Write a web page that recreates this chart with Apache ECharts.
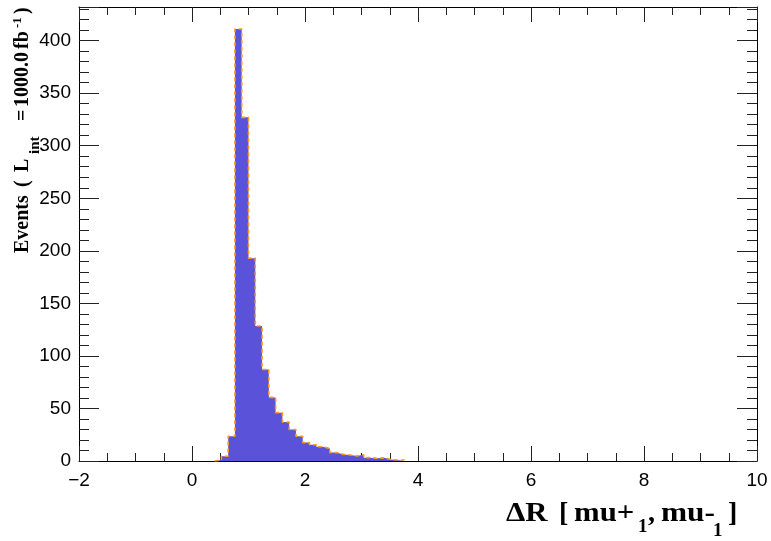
<!DOCTYPE html>
<html>
<head>
<meta charset="utf-8">
<script src="https://cdn.jsdelivr.net/npm/echarts@6/dist/echarts.min.js"></script>
<style>
html,body{margin:0;padding:0;background:#fff;}
#chart{width:771px;height:541px;}
</style>
</head>
<body>
<div id="chart"></div>
<script>
// ---- data ----
const binStart = 0.40;
const binWidth = 0.12;
const counts = [1, 4.5, 23.5, 411, 327, 193, 128.5, 87, 60.5, 46, 37, 30, 23.5, 17.5, 15.5, 13.5, 12, 8, 6.3, 5.7, 4.8, 6, 3.2, 2.5, 3, 1.5, 1, 1];
const xTickValues = [-2, 0, 2, 4, 6, 8, 10];
const xTickLabels = ['\u22122', '0', '2', '4', '6', '8', '10'];
const yTickValues = [0, 50, 100, 150, 200, 250, 300, 350, 400];
const yTickLabels = ['0', '50', '100', '150', '200', '250', '300', '350', '400'];
const xTitleParts = ['\u0394R', '[', 'mu+', '1', ',', 'mu-', '1', ']'];
const yTitleParts = ['Events', '(', 'L', 'int', '=', '1000.0', 'fb', '-1', ')'];

// ---- build ----
const pts = [[binStart, 0]];
counts.forEach((c, i) => pts.push([+(binStart + i * binWidth).toFixed(4), c]));
const xEnd = +(binStart + counts.length * binWidth).toFixed(4);
pts.push([xEnd, counts[counts.length - 1]]);
pts.push([xEnd, 0]);

const FILL = '#5a52d8';
const LINE = '#ff9a1a';
const SANS = "'Liberation Sans', Arial, Helvetica, sans-serif";
const SERIF = "'Liberation Serif', 'Times New Roman', serif";

function xLabel(v) {
  const i = xTickValues.indexOf(v);
  return i >= 0 ? xTickLabels[i] : '';
}
function yLabel(v) {
  const i = yTickValues.indexOf(v);
  return i >= 0 ? yTickLabels[i] : '';
}

const black = {color: '#000', width: 1};
function xAx(pos, labels) {
  return {
    type: 'value', min: -2, max: 10, interval: 2, position: pos,
    axisLine: {show: true, onZero: false, lineStyle: black},
    axisTick: {show: true, inside: true, length: 15, lineStyle: {color: '#222', width: 1}},
    minorTick: {show: true, splitNumber: 4, length: 8, lineStyle: {color: '#222', width: 1}},
    axisLabel: {show: labels, formatter: xLabel, fontSize: 19, color: '#000', margin: 10, fontFamily: SANS},
    splitLine: {show: false}, minorSplitLine: {show: false}
  };
}
function yAx(pos, major) {
  return {
    type: 'value', min: 0, max: 432, interval: major ? 50 : 10, position: pos,
    axisLine: {show: major, onZero: false, lineStyle: black},
    axisTick: {show: true, inside: true, length: major ? 20 : 10, lineStyle: {color: '#222', width: 1}},
    axisLabel: {show: major && pos === 'left', formatter: yLabel, fontSize: 19, color: '#000', margin: 8, fontFamily: SANS},
    splitLine: {show: false}
  };
}

// text pieces: offset along reading direction, baseline shift, font size, horizontal stretch
function pieces(parts, layout) {
  return parts.map((t, i) => {
    const s = layout[i];
    return {
      type: 'text', x: s.at, y: s.dy - 0.34 * s.size, scaleX: s.sx || 1,
      style: {text: t, font: 'bold ' + s.size + 'px ' + SERIF, fill: '#000',
              textAlign: 'left', textVerticalAlign: 'middle', align: 'left', verticalAlign: 'middle'}
    };
  });
}

const xTitleKids = pieces(xTitleParts, [
  {at: 0, dy: 0, size: 28, sx: 1.1},
  {at: 53, dy: 0, size: 28},
  {at: 68, dy: 0, size: 28, sx: 1.1},
  {at: 132, dy: 11, size: 19},
  {at: 142, dy: 0, size: 28},
  {at: 155, dy: 0, size: 28, sx: 1.12},
  {at: 207, dy: 15, size: 19},
  {at: 222, dy: 0, size: 28}
]);
const yTitleKids = pieces(yTitleParts, [
  {at: 0, dy: 0, size: 20},
  {at: 66, dy: 0, size: 20},
  {at: 81, dy: 0, size: 20},
  {at: 99, dy: 10, size: 15},
  {at: 132, dy: 0, size: 20},
  {at: 146, dy: 0, size: 20},
  {at: 204, dy: 0, size: 20},
  {at: 225, dy: -8, size: 13},
  {at: 239, dy: 0, size: 20}
]);

const chart = echarts.init(document.getElementById('chart'), null, {renderer: 'canvas'});
chart.setOption({
  animation: false,
  backgroundColor: '#fff',
  grid: {left: 79, right: 14, top: 7, bottom: 80, containLabel: false},
  xAxis: [xAx('bottom', true), xAx('top', false)],
  yAxis: [yAx('left', true), yAx('left', false), yAx('right', true), yAx('right', false)],
  series: [{
    type: 'line', xAxisIndex: 0, yAxisIndex: 0,
    data: pts, step: 'end', showSymbol: false, symbol: 'none',
    lineStyle: {color: LINE, width: 1.6, type: [4, 3]},
    areaStyle: {color: FILL, opacity: 1, origin: 'start'},
    z: 1
  }],
  graphic: [
    {type: 'group', x: 506, y: 523, children: xTitleKids},
    {type: 'group', x: 30, y: 253, rotation: Math.PI / 2, children: yTitleKids}
  ]
});
</script>
</body>
</html>
